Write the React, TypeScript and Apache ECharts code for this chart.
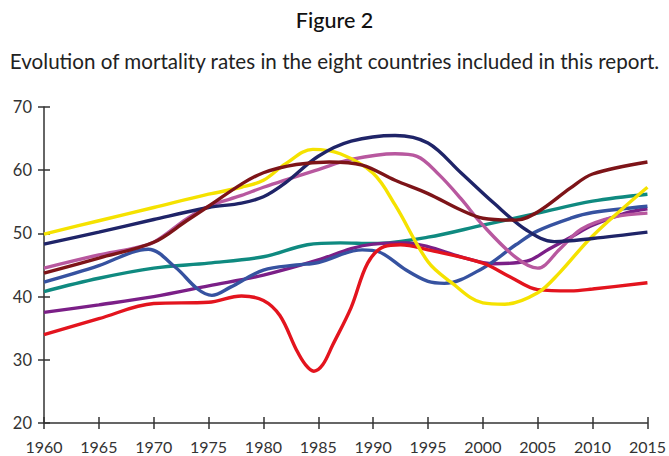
import React, { useEffect, useRef } from "react";
import * as echarts from "echarts";

const xTicks = [1960, 1965, 1970, 1975, 1980, 1985, 1990, 1995, 2000, 2005, 2010, 2015];
const yTicks = [20, 30, 40, 50, 60, 70];

const yellowData = [[1960,49.9],[1965,52.0],[1970,54.1],[1975,56.2],[1978,57.3],[1980,58.4],[1982,61.0],[1984.5,63.3],[1987,62.6],[1990,59.5],[1992,54.5],[1995,45.5],[1997,42.4],[2000,39.0],[2002,38.8],[2005,40.6],[2007,43.8],[2010,49.6],[2015,57.3]];
const navyData = [[1960,48.3],[1965,50.2],[1970,52.2],[1975,54.1],[1978,54.8],[1980,55.8],[1982,58.0],[1985,62.2],[1988,64.6],[1992,65.5],[1995,64.3],[1998,59.6],[2001,54.8],[2004,50.5],[2006.5,48.7],[2010,49.2],[2015,50.2]];
const pinkData = [[1960,44.5],[1965,46.6],[1968,47.6],[1970,48.6],[1973,52.3],[1975,54.3],[1978,56.0],[1980,57.3],[1985,60.1],[1988,61.7],[1992,62.6],[1994,62.2],[1996,59.3],[1998,55.5],[2000,51.3],[2003,46.2],[2005,44.5],[2007,47.5],[2009,50.7],[2012,52.6],[2015,53.2]];
const darkRedData = [[1960,43.7],[1965,46.1],[1970,48.6],[1973,52.0],[1975,54.3],[1978,57.8],[1980,59.6],[1983,60.9],[1986,61.3],[1989,60.8],[1992,58.4],[1995,56.3],[1998,53.7],[2000,52.4],[2003,52.1],[2005,53.4],[2008,57.2],[2010,59.4],[2015,61.3]];
const tealData = [[1960,40.8],[1965,42.9],[1970,44.5],[1975,45.3],[1980,46.3],[1984,48.2],[1987,48.5],[1990,48.4],[1995,49.4],[2000,51.3],[2005,53.2],[2010,55.1],[2015,56.2]];
const blueData = [[1960,42.3],[1965,44.9],[1968,47.0],[1969.5,47.5],[1972,44.6],[1974,41.2],[1975.3,40.2],[1977,41.5],[1980,44.2],[1983,45.0],[1985,45.4],[1989,47.4],[1990.5,47.1],[1993,44.2],[1995,42.4],[1996.5,42.1],[2000,44.5],[2003,48.2],[2005,50.4],[2008,52.4],[2010,53.3],[2015,54.3]];
const purpleData = [[1960,37.5],[1965,38.7],[1970,40.0],[1975,41.7],[1980,43.4],[1985,45.8],[1988,47.6],[1990,48.3],[1993,48.5],[1995,47.9],[1998,46.3],[2001,45.2],[2004,45.6],[2006,47.5],[2008,49.4],[2010,51.3],[2013,53.2],[2015,53.9]];
const redData = [[1960,34.0],[1965,36.5],[1970,38.9],[1975,39.1],[1978,40.1],[1980,39.4],[1981.5,37.0],[1983,31.6],[1983.8,29.3],[1984.6,28.2],[1985.4,29.2],[1986.3,32.3],[1988,38.3],[1989.5,45.3],[1991,47.9],[1992.5,48.2],[1995,47.4],[2000,45.3],[2002.5,43.1],[2005,41.1],[2008,40.9],[2010,41.2],[2015,42.2]];

const seriesList = [
  { name: "Teal", data: tealData, color: "#0f8a80" },
  { name: "Purple", data: purpleData, color: "#7b1f87" },
  { name: "Blue", data: blueData, color: "#3652a0" },
  { name: "Red", data: redData, color: "#e3141e" },
  { name: "Pink", data: pinkData, color: "#b8589f" },
  { name: "Yellow", data: yellowData, color: "#f5e200" },
  { name: "Navy", data: navyData, color: "#1f2468" },
  { name: "DarkRed", data: darkRedData, color: "#7d1418" },
];

const FONT = "Lato, 'Open Sans', sans-serif";

export default function App() {
  const ref = useRef<HTMLDivElement>(null);
  useEffect(() => {
    document.body.style.margin = "0";
    const chart = echarts.init(ref.current!, null, { renderer: "svg" });
    const axisLine = { show: true, lineStyle: { color: "#333", width: 1.5 } };
    const xBase = { type: "value", min: xTicks[0], max: xTicks[xTicks.length - 1], interval: 5, position: "bottom", splitLine: { show: false } };
    const yBase = { type: "value", min: yTicks[0], max: yTicks[yTicks.length - 1], interval: 10, position: "left", splitLine: { show: false } };
    chart.setOption({
      animation: false,
      title: [
        { text: "Figure 2", left: "center", top: 4, textStyle: { fontFamily: FONT, fontSize: 21.5, fontWeight: 500, color: "#111" } },
        { text: "Evolution of mortality rates in the eight countries included in this report.", left: "center", top: 45, textStyle: { fontFamily: FONT, fontSize: 20.6, fontWeight: 400, color: "#222" } },
      ],
      grid: { left: 44, right: 12, top: 107, bottom: 33, containLabel: false },
      xAxis: [
        { ...xBase, axisLine, axisTick: { show: true, inside: false, length: 6, lineStyle: { color: "#333", width: 1.5 } },
          axisLabel: { fontFamily: FONT, fontSize: 16, color: "#333", margin: 15, formatter: (v: number) => String(v) } },
        { ...xBase, axisLine: { show: false }, axisTick: { show: true, inside: true, length: 6, lineStyle: { color: "#333", width: 1.5 } }, axisLabel: { show: false } },
      ],
      yAxis: [
        { ...yBase, axisLine, axisTick: { show: true, inside: false, length: 6, lineStyle: { color: "#333", width: 1.5 } },
          axisLabel: { fontFamily: FONT, fontSize: 16.5, color: "#333", margin: 12 } },
        { ...yBase, axisLine: { show: false }, axisTick: { show: true, inside: true, length: 6, lineStyle: { color: "#333", width: 1.5 } }, axisLabel: { show: false } },
      ],
      series: seriesList.map((s) => ({
        type: "line",
        name: s.name,
        xAxisIndex: 0,
        yAxisIndex: 0,
        data: s.data,
        smooth: 0.35,
        showSymbol: false,
        symbol: "none",
        lineStyle: { color: s.color, width: 3.4 },
        itemStyle: { color: s.color },
      })),
    });
    return () => chart.dispose();
  }, []);
  return <div ref={ref} style={{ width: 669, height: 456, position: "absolute", left: 0, top: 0 }} />;
}
